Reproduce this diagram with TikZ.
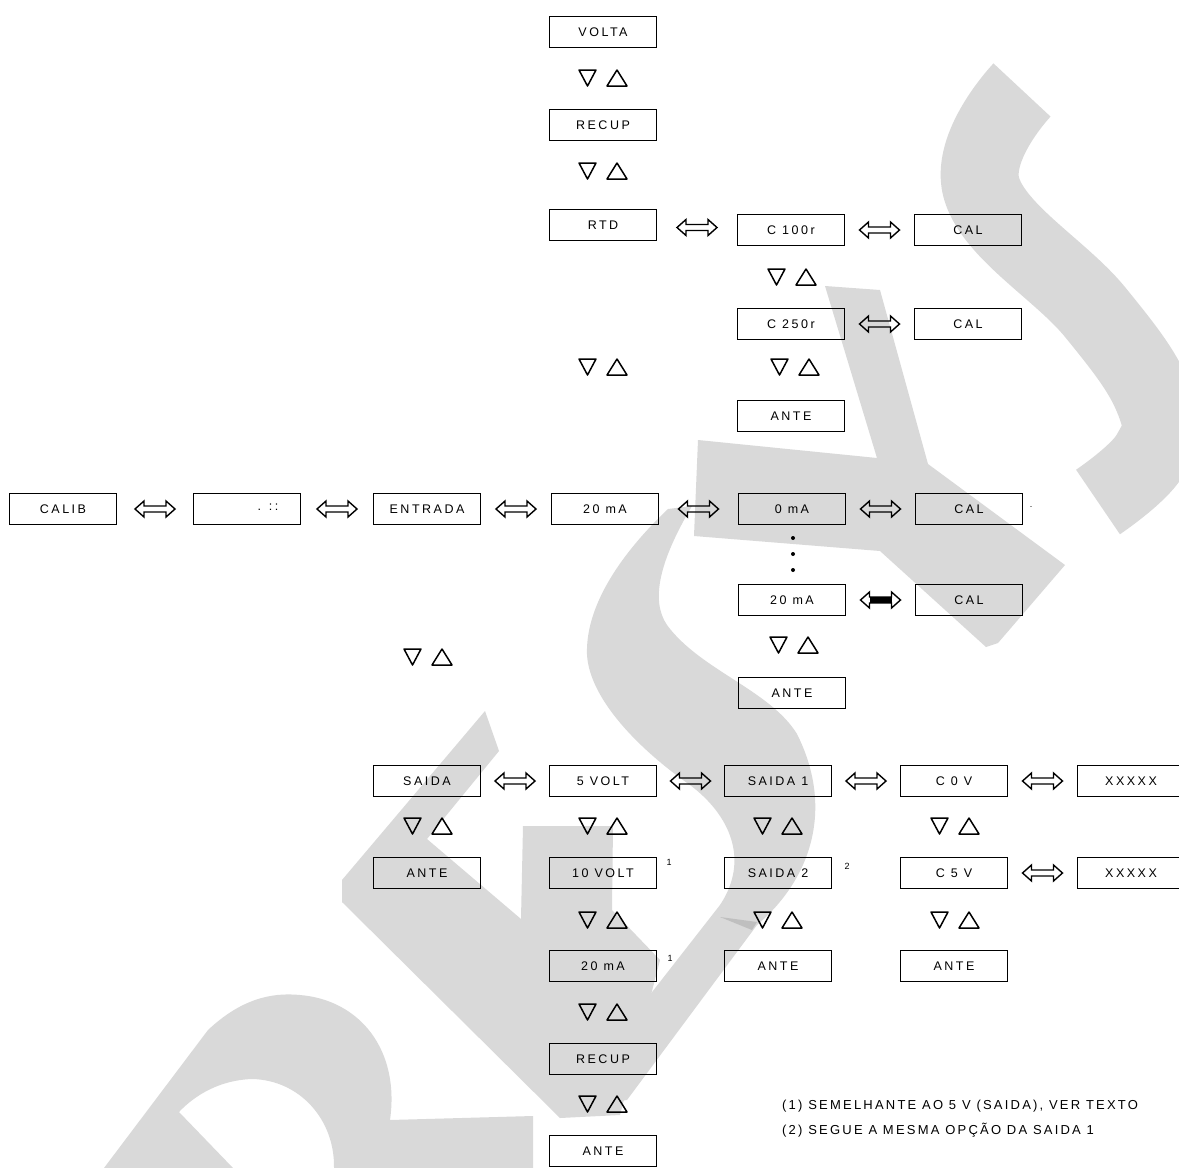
\documentclass[tikz,border=0pt]{standalone}
\usepackage{fontspec}
\setmainfont{Liberation Sans}
\newfontfamily\lcdfam[LetterSpace=20]{Liberation Sans}
\newfontfamily\notefam[LetterSpace=17]{Liberation Sans}
\usetikzlibrary{calc}
\newcommand\bxfont{\lcdfam\fontsize{12.5}{13}\selectfont}
\newcommand\ntfont{\notefam\fontsize{13}{14}\selectfont}
\newcommand\spfont{\fontsize{9}{9}\selectfont}
\tikzset{
  x=1pt, y=-1pt,
  wm/.style={fill=black!15, draw=none},
  wmstroke/.style={draw=black!15, line width=#1, line cap=butt, line join=round},
  box/.style={draw=black, line width=1.3pt, minimum width=107pt, minimum height=31pt, inner sep=0pt, font=\bxfont},
  note/.style={font=\ntfont, anchor=west, inner sep=0pt},
  suptxt/.style={font=\spfont, inner sep=0pt},
  dotnode/.style={circle, fill=black, inner sep=0pt, minimum size=4pt},
  dblarrow/.pic={\draw[line width=1.4pt, line join=miter] (-20,0) -- (-11,-8) -- (-11,-3) -- (11,-3) -- (11,-8) -- (20,0) -- (11,8) -- (11,3) -- (-11,3) -- (-11,8) -- cycle;},
  dblarrowbold/.pic={\draw[line width=1.4pt, line join=miter] (-20,0) -- (-11,-8) -- (-11,-3) -- (11,-3) -- (11,-8) -- (20,0) -- (11,8) -- (11,3) -- (-11,3) -- (-11,8) -- cycle; \fill (-11,-3) rectangle (11,3);},
  updn/.pic={\draw[line width=1.5pt, line join=round] (-24,-8) -- (-7,-8) -- (-15.5,8) -- cycle; \draw[line width=1.5pt, line join=round] (4,8) -- (24,8) -- (14,-8) -- cycle;}
}
\begin{document}
\begin{tikzpicture}
\useasboundingbox (0,0) rectangle (1179,1168);
\clip (0,0) rectangle (1179,1168);
\fill[white] (0,0) rectangle (1179,1168);
% ---------- watermark ----------
\draw[wmstroke=78pt] plot[smooth, tension=0.7] coordinates {(1022,90) (982,190) (1095,312) (1155,402) (1150,455) (1098,502)};
\fill[wm] (825,286) -- (880,290) -- (928,464) -- (1065,565) -- (998,643) -- (986,647) -- (880,551) -- (694,536) -- (698,440) -- (877,458) -- cycle;
\fill[wm] (668,509) .. controls (630,545) and (585,600) .. (587,655)
  .. controls (590,700) and (640,750) .. (690,785)
  .. controls (730,815) and (750,860) .. (720,905)
  -- (560,1110) -- (627,1100) -- (757,925)
  .. controls (810,880) and (835,810) .. (797,734)
  .. controls (770,690) and (700,670) .. (667,625)
  .. controls (650,600) and (660,560) .. (692,506) -- cycle;
\fill[wm] (342,880) -- (485,711) -- (499,751) -- (427,839) -- (521,919) -- (523,826) -- (613,826) -- (612,910) -- (660,960) -- (620,1115) -- (560,1118) -- (342,902) -- cycle;
\fill[wm] (104,1168) -- (208,1030) .. controls (240,1000) and (270,992) .. (300,995) .. controls (360,1000) and (400,1050) .. (390,1120) -- (533,1116) -- (533,1168) -- (334,1168) .. controls (335,1120) and (300,1080) .. (252,1079) .. controls (220,1080) and (195,1095) .. (179,1112) -- (233,1168) -- cycle;
\fill[black!25] (720,917) -- (757,922) -- (752,930) -- cycle;
% ---------- boxes ----------
\node[box] (volta) at (603,32) {VOLTA};
\node[box] (recupA) at (603,125) {RECUP};
\node[box] (rtd) at (603,225) {RTD};
\node[box] (c100) at (791,230) {C 100r};
\node[box] (calA) at (968,230) {CAL};
\node[box] (c250) at (791,324) {C 250r};
\node[box] (calB) at (968,324) {CAL};
\node[box] (anteA) at (791,416) {ANTE};
\node[box] (calib) at (63,509) {CALIB};
\node[box] (blank) at (247,509) {};
\node[font=\bxfont, inner sep=0pt] (blanktxt) at (268,507) {. ::};
\node[box] (entrada) at (427,509) {ENTRADA};
\node[box] (maA) at (605,509) {20 mA};
\node[box] (maZero) at (792,509) {0 mA};
\node[box] (calC) at (969,509) {CAL};
\node[suptxt] (calnote) at (1031,507) {.};
\node[dotnode] (dA) at (793,538) {};
\node[dotnode] (dB) at (793,554) {};
\node[dotnode] (dC) at (793,570) {};
\node[box] (maB) at (792,600) {20 mA};
\node[box] (calD) at (969,600) {CAL};
\node[box] (anteB) at (792,693) {ANTE};
\node[box] (saida) at (427,781) {SAIDA};
\node[box] (vfive) at (603,781) {5 VOLT};
\node[box] (saidaA) at (778,781) {SAIDA 1};
\node[box] (czero) at (954,781) {C 0 V};
\node[box] (xxA) at (1131,781) {XXXXX};
\node[box] (anteC) at (427,873) {ANTE};
\node[box] (vten) at (603,873) {10 VOLT};
\node[box] (saidaB) at (778,873) {SAIDA 2};
\node[box] (cfive) at (954,873) {C 5 V};
\node[box] (xxB) at (1131,873) {XXXXX};
\node[box] (maC) at (603,966) {20 mA};
\node[box] (anteD) at (778,966) {ANTE};
\node[box] (anteE) at (954,966) {ANTE};
\node[box] (recupB) at (603,1059) {RECUP};
\node[box] (anteF) at (603,1151) {ANTE};
\node[suptxt] (nA) at (669,862) {1};
\node[suptxt] (nB) at (670,958) {1};
\node[suptxt] (nC) at (847,866) {2};
% ---------- double arrows ----------
\pic at ($(rtd.east)!0.5!(c100.west)$) {dblarrow};
\pic at ($(c100.east)!0.5!(calA.west)$) {dblarrow};
\pic at ($(c250.east)!0.5!(calB.west)$) {dblarrow};
\pic at ($(calib.east)!0.5!(blank.west)$) {dblarrow};
\pic at ($(blank.east)!0.5!(entrada.west)$) {dblarrow};
\pic at ($(entrada.east)!0.5!(maA.west)$) {dblarrow};
\pic at ($(maA.east)!0.5!(maZero.west)$) {dblarrow};
\pic at ($(maZero.east)!0.5!(calC.west)$) {dblarrow};
\pic at ($(maB.east)!0.5!(calD.west)$) {dblarrowbold};
\pic at ($(saida.east)!0.5!(vfive.west)$) {dblarrow};
\pic at ($(vfive.east)!0.5!(saidaA.west)$) {dblarrow};
\pic at ($(saidaA.east)!0.5!(czero.west)$) {dblarrow};
\pic at ($(czero.east)!0.5!(xxA.west)$) {dblarrow};
\pic at ($(cfive.east)!0.5!(xxB.west)$) {dblarrow};
% ---------- up/down symbols ----------
\pic at (603,78) {updn};
\pic at (603,171) {updn};
\pic at (792,277) {updn};
\pic at (603,367) {updn};
\pic at (795,367) {updn};
\pic at (794,645) {updn};
\pic at (428,657) {updn};
\pic at (428,826) {updn};
\pic at (603,826) {updn};
\pic at (778,826) {updn};
\pic at (955,826) {updn};
\pic at (603,920) {updn};
\pic at (778,920) {updn};
\pic at (955,920) {updn};
\pic at (603,1012) {updn};
\pic at (603,1104) {updn};
% ---------- notes ----------
\node[note] (fnA) at (782,1106) {(1) SEMELHANTE AO 5 V (SAIDA), VER TEXTO};
\node[note] (fnB) at (782,1130) {(2) SEGUE A MESMA OPÇÃO DA SAIDA 1};
\end{tikzpicture}
\end{document}
